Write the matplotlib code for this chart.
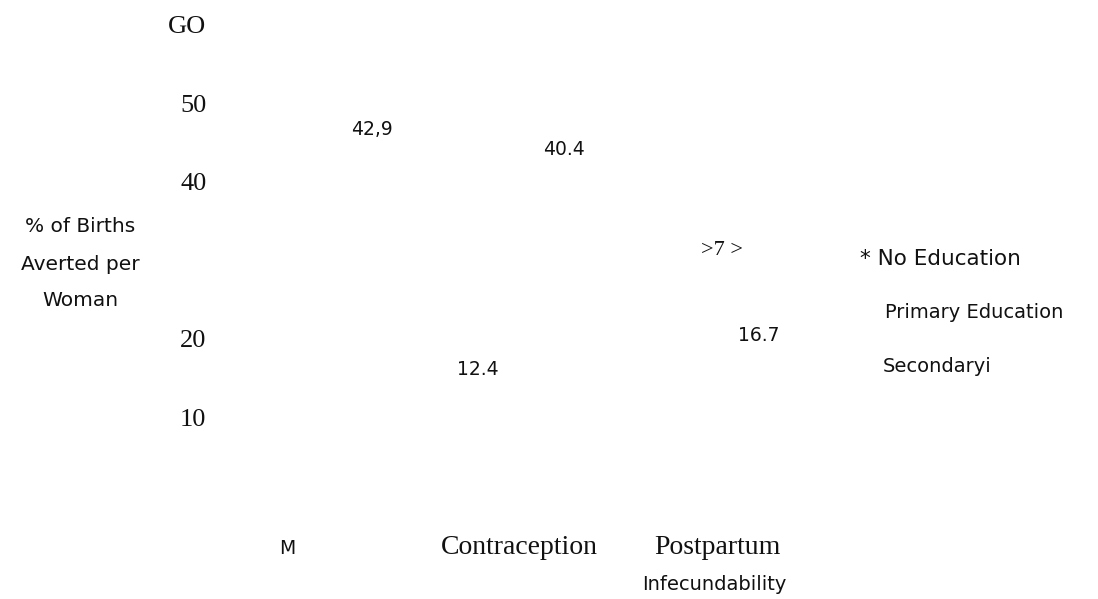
import matplotlib
matplotlib.use('Agg')
import matplotlib.pyplot as plt
from matplotlib.transforms import blended_transform_factory

# y axis as printed (30 is missing, 60 reads "GO")
y_ticks = [10, 20, 40, 50, 60]
y_tick_labels = ['10', '20', '40', '50', 'GO']

# value labels as printed and the bar values they sit on
value_text = ['42,9', '40.4', '>7 >', '16.7', '12.4']
values = [42.9, 40.4, 27.5, 16.7, 12.4]

categories = ['M', 'Contraception', 'Postpartum']
cat_sub = 'Infecundability'
legend_labels = ['* No Education', 'Primary Education', 'Secondaryi']
ylabel_lines = ['% of Births', 'Averted per', 'Woman']

# layout, x in pixels of the 1098 px wide figure
W, H = 1098, 599
value_x = [372, 564, 722, 759, 478]
cat_x = [287, 519, 717]
legend_pos = [(860, 259), (885, 313), (883, 366)]

SANS = 'DejaVu Sans'
SERIF = 'Liberation Serif'
ink = '#111111'

fig = plt.figure(figsize=(W / 100, H / 100), dpi=100)
ax = fig.add_axes([212 / W, 103.5 / H, 1 - 212 / W, 494.5 / H])
ax.set_ylim(0, 63)
ax.set_xlim(0, 1)
for s in ax.spines.values():
    s.set_visible(False)
ax.set_xticks([])
ax.set_yticks(y_ticks, y_tick_labels)
ax.tick_params(axis='y', length=0, pad=4, labelsize=19, labelcolor=ink)
for t in ax.get_yticklabels():
    t.set_fontfamily(SERIF)

# value labels, placed on the data scale just above each value
tr = blended_transform_factory(fig.transFigure, ax.transData)
for x, v, txt in zip(value_x, values, value_text):
    fam = SERIF if txt.startswith('>') else SANS
    size = 16 if fam == SERIF else 13.5
    ax.text(x / W, v + 3.7, txt, transform=tr, ha='center', va='center',
            fontsize=size, fontfamily=fam, color=ink)


def fy(py):
    return 1 - py / H


# category labels
fig.text(cat_x[0] / W, fy(548), categories[0], ha='center', va='center',
         fontsize=13.5, fontfamily=SANS, color=ink)
fig.text(cat_x[1] / W, fy(548), categories[1], ha='center', va='center',
         fontsize=20, fontfamily=SERIF, color=ink)
fig.text(cat_x[2] / W, fy(548), categories[2], ha='center', va='center',
         fontsize=20, fontfamily=SERIF, color=ink)
fig.text(714 / W, fy(585), cat_sub, ha='center', va='center',
         fontsize=14, fontfamily=SANS, color=ink)

# y label in three lines
for i, line in enumerate(ylabel_lines):
    fig.text(80 / W, fy(227 + 37 * i), line, ha='center', va='center',
             fontsize=14.5, fontfamily=SANS, color=ink)

# legend texts (no swatches visible)
for (px, py), lab, size in zip(legend_pos, legend_labels, [15.5, 14, 14]):
    fig.text(px / W, fy(py), lab, ha='left', va='center',
             fontsize=size, fontfamily=SANS, color=ink)

fig.savefig('out.png', dpi=100, facecolor='white')
